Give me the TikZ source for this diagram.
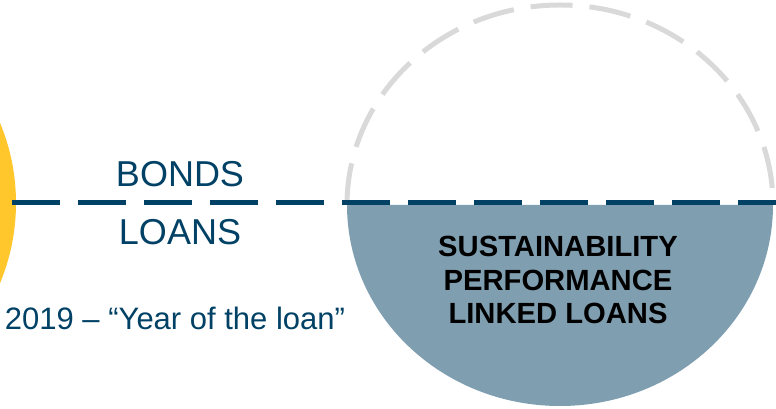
\documentclass[tikz,border=0pt]{standalone}
\usepackage{fontspec}
\setmainfont{Liberation Sans}
\definecolor{navy}{HTML}{004165}
\definecolor{slfill}{HTML}{7F9FB1}
\definecolor{sunyellow}{HTML}{FFC72C}
\definecolor{lightgrey}{HTML}{D9D9D9}
\tikzset{
  navytext/.style={text=navy, inner sep=0pt, anchor=base},
  divider/.style={draw=navy, line width=5pt, dash pattern=on 48pt off 18pt},
  ghostarc/.style={draw=lightgrey, line width=5pt, dash pattern=on 42pt off 17pt},
}
\begin{document}
\begin{tikzpicture}[x=1pt,y=1pt]
\useasboundingbox (0,0) rectangle (776,409);
\begin{scope}
\clip (0,0) rectangle (776,409);
% yellow circle at left edge
\fill[sunyellow] (-192,206) circle (208);
% lower filled half
\fill[slfill] (347,204) arc[start angle=180, end angle=360, x radius=213, y radius=201] -- cycle;
% upper dashed grey arc
\draw[ghostarc] (347,204) arc[start angle=180, end angle=0, x radius=213, y radius=200];
% dashed divider
\coordinate (dl) at (12,206);
\coordinate (dr) at (776,206);
\draw[divider] (dl) -- (dr);
\end{scope}
\node[navytext, font=\fontsize{36}{40}\selectfont] (bonds) at (180,222) {BONDS};
\node[navytext, font=\fontsize{36}{40}\selectfont] (loans) at (180,164) {LOANS};
\node[navytext, font=\fontsize{31}{36}\selectfont] (year) at (175,79) {2019 – “Year of the loan”};
\node[inner sep=0pt, align=center, font=\bfseries\fontsize{29.2}{33.5}\selectfont] (spll) at (558,129) {SUSTAINABILITY\\PERFORMANCE\\LINKED LOANS};
\end{tikzpicture}
\end{document}
